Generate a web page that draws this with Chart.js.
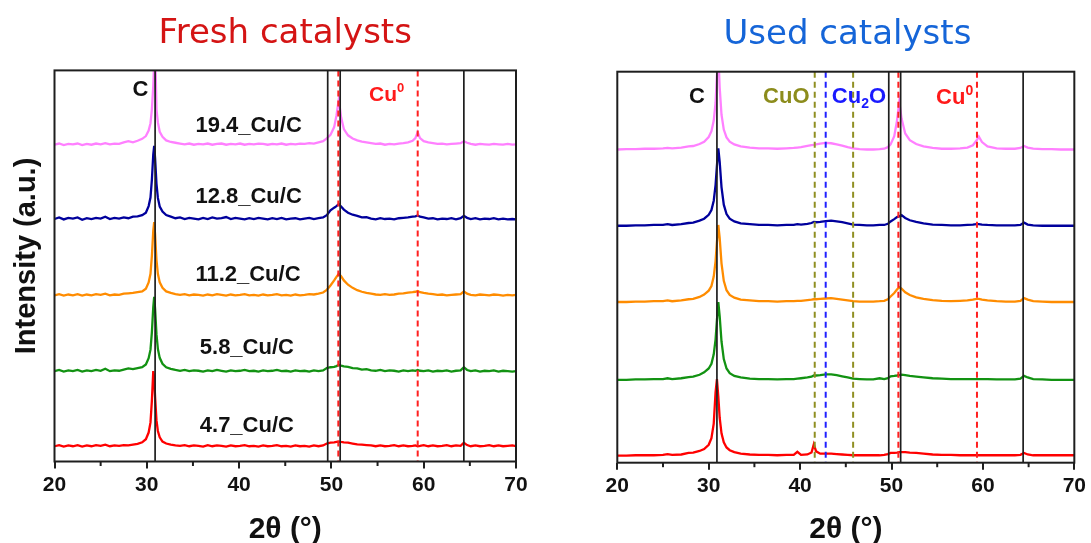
<!DOCTYPE html>
<html><head><meta charset="utf-8">
<script src="https://cdn.jsdelivr.net/npm/chart.js@4.4.1/dist/chart.umd.min.js"></script>
<style>
html,body{margin:0;padding:0;background:#fff;width:1091px;height:543px;overflow:hidden;position:relative;}
#c1{position:absolute;left:0;top:0;}
#c2{position:absolute;left:578px;top:0;}
</style></head><body>
<canvas id="c1" width="606" height="543"></canvas>
<canvas id="c2" width="512" height="543"></canvas>
<script>
// ---------- DATA ----------
const freshNames = ['19.4_Cu/C','12.8_Cu/C','11.2_Cu/C','5.8_Cu/C','4.7_Cu/C'];
const xFresh = [
20,20.5,21,21.5,22,22.5,23,23.5,24,24.5,
25,25.5,26,26.5,27,27.5,28,28.5,29,29.5,
29.9,30.2,30.4,30.55,30.7,30.8,30.9,31.05,31.2,31.4,
31.7,32.1,32.6,33.1,33.6,34.1,34.6,35.1,35.6,36.1,
36.6,37.1,37.6,38.1,38.6,39.1,39.6,40.1,40.6,41.1,
41.6,42.1,42.6,43.1,43.6,44.1,44.6,45.1,45.6,46.1,
46.6,47.1,47.6,48.1,48.6,49.1,49.5,49.9,50.3,50.55,
50.8,51.05,51.35,51.8,52.3,52.8,53.3,53.8,54.3,54.8,
55.3,55.8,56.3,56.8,57.3,57.8,58.3,58.8,59.1,59.35,
59.6,60,60.5,61,61.5,62,62.5,63,63.5,64,
64.35,64.7,65.1,65.6,66.1,66.6,67.1,67.6,68.1,68.6,
69.1,69.6,70];
const fresh19_4 = [
81.0,81.3,80.9,81.2,81.1,81.3,80.9,81.2,81.0,81.3,
81.1,81.4,81.1,81.3,81.2,81.6,81.9,81.6,82.0,82.5,
83.2,84.6,86.5,90.0,96.0,102.0,106.0,90.0,86.7,84.3,
83.0,82.1,81.7,81.5,81.3,81.1,81.3,81.0,81.2,81.1,
81.3,81.0,81.2,81.3,81.0,81.2,81.1,81.3,81.0,81.2,
81.1,81.3,81.2,81.0,81.2,81.1,81.3,81.0,81.2,81.1,
81.3,81.2,81.4,81.3,81.6,81.9,82.6,83.5,85.5,88.5,
92.6,88.0,85.0,83.4,82.6,82.1,81.8,81.6,81.4,81.2,
81.3,81.0,81.2,81.1,81.3,81.4,81.6,82.0,82.7,84.2,
82.7,81.9,81.6,81.4,81.2,81.3,81.1,81.2,81.3,81.4,
81.9,81.5,81.2,81.0,81.2,81.1,81.0,81.2,81.1,81.0,
81.2,81.0,81.1];
const fresh12_8 = [
62.0,62.4,61.9,62.3,62.1,62.4,61.8,62.2,62.0,62.3,
62.1,62.6,62.0,62.3,62.1,62.4,62.2,62.6,62.7,63.0,
63.6,65.3,67.5,72.0,78.5,80.7,77.5,71.0,67.4,65.2,
63.9,63.0,62.6,62.2,62.4,62.0,62.3,62.1,61.9,62.3,
62.0,62.4,62.1,62.2,62.5,62.0,62.3,62.1,61.9,62.2,
62.0,62.3,62.1,61.9,62.2,62.0,62.3,61.9,62.1,62.2,
61.9,62.1,62.3,62.0,62.2,62.4,63.0,64.2,64.9,65.3,
65.8,65.2,64.4,63.6,63.1,62.8,62.4,62.5,62.1,61.9,
62.2,62.0,62.1,61.9,62.2,62.3,62.4,62.6,62.7,62.9,
62.6,62.4,62.1,62.2,61.9,62.1,62.0,62.2,61.9,62.2,
62.8,62.3,62.0,62.2,61.9,62.1,62.0,62.2,61.9,62.1,
61.9,62.0,61.9];
const fresh11_2 = [
42.5,42.8,42.4,42.7,42.5,42.8,42.4,42.7,42.5,42.8,
42.6,42.9,42.5,42.7,42.6,42.9,43.0,43.1,43.3,43.5,
44.2,45.8,48.0,52.5,59.0,61.2,58.0,51.5,48.0,45.8,
44.4,43.5,43.1,42.8,42.6,42.8,42.5,42.7,42.6,42.4,
42.7,42.5,42.8,42.6,42.4,42.7,42.5,42.6,42.8,42.5,
42.6,42.4,42.7,42.5,42.6,42.8,42.5,42.6,42.4,42.7,
42.5,42.6,42.8,42.7,42.9,43.2,43.9,45.0,46.3,47.2,
48.0,47.4,46.3,45.2,44.4,43.8,43.4,43.1,42.9,42.7,
42.6,42.8,42.6,42.7,42.9,43.0,43.2,43.3,43.4,43.6,
43.3,43.1,42.9,42.8,42.6,42.7,42.5,42.6,42.7,42.8,
43.5,42.9,42.6,42.5,42.7,42.6,42.5,42.7,42.6,42.4,
42.6,42.5,42.6];
const fresh5_8 = [
23.1,23.4,23.0,23.3,23.1,23.4,23.0,23.3,23.1,23.4,
23.2,23.7,23.1,23.3,23.2,23.5,23.8,23.6,23.9,24.1,
24.8,26.4,28.6,33.0,39.5,42.1,39.0,32.5,28.8,26.5,
25.0,24.1,23.7,23.4,23.2,23.4,23.1,23.3,23.2,23.0,
23.3,23.1,23.4,23.2,23.0,23.3,23.1,23.2,23.4,23.1,
23.2,23.0,23.3,23.1,23.2,23.4,23.1,23.2,23.0,23.3,
23.1,23.2,23.0,23.3,23.1,23.3,23.9,24.1,24.2,24.4,
24.7,24.5,24.3,24.2,23.9,23.8,23.5,23.6,23.3,23.2,
23.4,23.1,23.3,23.2,23.0,23.3,23.1,23.3,23.2,23.4,
23.2,23.1,23.3,23.0,23.2,23.1,23.3,23.0,23.2,23.3,
24.1,23.4,23.1,23.3,23.0,23.2,23.1,23.3,23.0,23.2,
23.1,23.0,23.1];
const fresh4_7 = [
3.9,4.2,3.8,4.1,3.9,4.2,3.8,4.1,3.9,4.2,
4.0,4.3,3.9,4.1,4.0,4.2,4.1,4.3,4.5,4.9,
5.7,7.4,10.0,15.5,23.1,21.5,16.5,10.5,7.8,6.2,
5.1,4.6,4.3,4.1,4.0,4.2,3.9,4.1,4.0,3.8,
4.2,3.9,4.1,4.0,3.8,4.1,3.9,4.0,4.2,3.9,
4.0,3.8,4.1,3.9,4.0,4.2,3.9,4.0,3.8,4.1,
3.9,4.0,3.8,4.1,3.9,4.1,4.6,4.8,4.9,5.0,
5.1,5.0,4.9,4.8,4.6,4.4,4.3,4.2,4.1,3.9,
4.1,3.9,4.0,4.2,3.9,4.1,3.9,4.0,4.1,3.9,
4.0,4.2,3.9,4.1,3.9,4.0,4.2,3.9,4.1,4.0,
4.8,4.2,3.9,4.1,3.9,4.0,4.2,3.9,4.1,3.9,
4.0,4.1,3.9];

const xUsed = [
20,21,22,23,24,25,25.5,26,27,27.8,
28.3,29,29.5,30,30.3,30.55,30.75,30.9,31.05,31.2,
31.4,31.65,31.95,32.3,32.8,33.5,34.5,35.5,36.5,37.5,
38.5,39.3,39.7,40.1,40.8,41.25,41.5,41.75,42.2,42.8,
43.4,44,44.6,45.2,45.8,46.5,47.3,48,48.7,49.2,
49.6,49.9,50.3,50.6,50.85,51.1,51.5,52,52.7,53.5,
54.5,55.5,56.5,57.5,58.3,58.9,59.3,59.55,59.9,60.5,
61.5,62.5,63.5,64.1,64.5,64.9,65.5,66.5,67.5,68.5,
69.5,70];
const used19_4 = [
80.1,80.2,80.2,80.3,80.3,80.4,80.5,80.4,80.6,80.9,
81.0,81.5,82.1,83.3,84.8,87.5,92.0,99.0,105.0,96.0,
89.0,85.2,83.2,82.1,81.4,80.9,80.6,80.4,80.4,80.3,
80.4,80.5,80.6,80.7,81.0,81.2,81.3,81.4,81.6,81.8,
81.7,81.4,81.1,80.7,80.4,80.2,80.1,80.1,80.2,80.3,
80.7,81.4,83.5,87.5,92.3,88.0,84.2,82.5,81.5,80.9,
80.5,80.3,80.3,80.4,80.6,81.2,82.4,83.4,82.0,80.9,
80.4,80.3,80.3,80.5,81.0,80.6,80.3,80.2,80.2,80.1,
80.1,80.1];
const used12_8 = [
60.6,60.6,60.7,60.7,60.8,60.8,61.0,60.8,61.0,61.3,
61.4,61.9,62.4,63.4,64.6,67.0,71.0,76.0,80.4,77.0,
70.5,66.0,63.6,62.4,61.7,61.2,61.0,60.8,60.8,60.7,
60.8,60.8,61.0,60.9,61.1,61.3,61.6,61.5,61.6,61.8,
61.9,61.7,61.5,61.2,60.9,60.8,60.7,60.7,60.8,60.8,
61.1,61.7,62.3,62.8,63.0,63.3,62.6,62.0,61.6,61.2,
60.9,60.8,60.7,60.7,60.8,60.9,61.0,61.0,60.9,60.8,
60.7,60.7,60.7,60.8,61.4,60.9,60.7,60.6,60.6,60.6,
60.6,60.6];
const used11_2 = [
41.1,41.1,41.2,41.2,41.3,41.3,41.5,41.3,41.5,41.8,
41.9,42.4,43.0,44.0,45.2,47.6,51.5,56.5,60.8,57.5,
51.0,46.5,44.1,42.9,42.2,41.7,41.5,41.3,41.3,41.2,
41.3,41.3,41.4,41.4,41.6,41.7,41.8,41.8,41.9,42.0,
42.1,41.9,41.7,41.5,41.3,41.2,41.2,41.2,41.3,41.4,
41.8,42.5,43.4,44.3,44.9,44.5,43.6,42.9,42.3,41.9,
41.6,41.4,41.3,41.4,41.5,41.7,41.9,41.9,41.7,41.5,
41.3,41.2,41.2,41.4,42.1,41.7,41.3,41.2,41.1,41.1,
41.1,41.1];
const used5_8 = [
21.2,21.2,21.3,21.3,21.4,21.4,21.6,21.4,21.6,21.9,
22.0,22.5,23.1,24.1,25.3,27.7,31.5,36.5,41.1,37.5,
31.0,26.5,24.1,22.9,22.2,21.8,21.5,21.4,21.4,21.3,
21.4,21.4,21.5,21.6,21.8,22.0,22.3,22.3,22.4,22.6,
22.6,22.4,22.1,21.8,21.5,21.4,21.3,21.3,21.6,21.4,
21.6,22.1,22.2,22.3,22.4,22.5,22.4,22.2,22.0,21.8,
21.6,21.5,21.4,21.4,21.4,21.4,21.4,21.4,21.4,21.4,
21.3,21.3,21.3,21.5,22.2,21.8,21.4,21.3,21.2,21.2,
21.2,21.2];
const used4_7 = [
1.8,1.8,1.9,1.9,1.9,2.0,2.2,2.0,2.1,2.5,
2.6,3.0,3.5,4.6,6.3,10.0,18.0,21.4,17.0,11.5,
7.5,5.2,3.9,3.2,2.7,2.3,2.1,2.0,2.0,1.9,
2.0,2.0,2.8,2.0,2.1,2.6,4.7,2.9,2.3,2.3,
2.3,2.2,2.1,2.0,1.9,1.9,1.9,1.9,1.9,2.0,
2.2,2.5,2.5,2.6,2.7,2.7,2.7,2.6,2.5,2.3,
2.1,2.0,2.0,1.9,1.9,1.9,1.9,1.9,1.9,1.9,
1.9,1.9,1.9,2.0,2.5,2.1,1.9,1.9,1.9,1.9,
1.9,1.9];

// reference-line positions (2θ)
const freshCLines = [30.9, 49.6, 50.95, 64.35];
const freshCu0Lines = [50.75, 59.35];
const usedCLines = [30.9, 49.7, 51.0, 64.4];
const usedCu0Lines = [50.75, 59.35];
const usedCuOLines = [41.6, 45.8];
const usedCu2OLines = [42.8];
const xTickMajor = [20, 30, 40, 50, 60, 70];
const xTickMinor = [25, 35, 45, 55, 65];

// ---------- STYLE ----------
const seriesColors = ['#ff80ff', '#00009c', '#ff8c00', '#129212', '#ff0000'];
const SANS = '"Liberation Sans", Arial, sans-serif';

function toXY(xs, ys) { return xs.map((x, i) => ({x: x, y: ys[i]})); }

function drawRich(ctx, parts, px, py, align, color, size) {
  const segs = parts.map(p => {
    const s = p[1] ? Math.round(size * 0.62) : size;
    ctx.font = 'bold ' + s + 'px ' + SANS;
    return {t: p[0], mode: p[1], s: s, w: ctx.measureText(p[0]).width};
  });
  const total = segs.reduce((a, b) => a + b.w, 0);
  let x = align === 'center' ? px - total / 2 : px;
  ctx.fillStyle = color; ctx.textAlign = 'left'; ctx.textBaseline = 'alphabetic';
  segs.forEach(g => {
    ctx.font = 'bold ' + g.s + 'px ' + SANS;
    let dy = 0;
    if (g.mode === 'sup') dy = -size * 0.42;
    if (g.mode === 'sub') dy = size * 0.24;
    ctx.fillText(g.t, x, py + dy);
    x += g.w;
  });
}

function decorPlugin(cfg) {
  return {
    id: 'decor',
    afterDatasetsDraw(chart) {
      const ctx = chart.ctx, a = chart.chartArea, xs = chart.scales.x, ys = chart.scales.y;
      ctx.save();
      cfg.refs.forEach(r => {
        r.values.forEach(v => {
          const px = xs.getPixelForValue(v);
          ctx.beginPath();
          ctx.strokeStyle = r.color; ctx.lineWidth = r.width; ctx.setLineDash(r.dash || []);
          ctx.moveTo(px, a.top); ctx.lineTo(px, a.bottom); ctx.stroke();
        });
      });
      ctx.setLineDash([]);
      ctx.strokeStyle = '#1e1e1e'; ctx.lineWidth = 2;
      ctx.strokeRect(a.left, a.top, a.right - a.left, a.bottom - a.top);
      xTickMinor.forEach(v => {
        const px = xs.getPixelForValue(v);
        ctx.beginPath(); ctx.moveTo(px, a.bottom); ctx.lineTo(px, a.bottom + 4.5); ctx.stroke();
      });
      cfg.labels.forEach(l => {
        drawRich(ctx, l.parts, xs.getPixelForValue(l.x), ys.getPixelForValue(l.y), l.align, l.color, l.size);
      });
      if (cfg.yTitle) {
        ctx.translate(27, (a.top + a.bottom) / 2 - 10);
        ctx.rotate(-Math.PI / 2);
        ctx.font = 'bold 29px ' + SANS;
        ctx.fillStyle = '#111'; ctx.textAlign = 'center'; ctx.textBaseline = 'middle';
        ctx.fillText(cfg.yTitle, 0, 0);
      }
      ctx.restore();
    }
  };
}

function makeChart(id, opts) {
  return new Chart(document.getElementById(id), {
    type: 'line',
    data: {
      datasets: opts.series.map((ys, i) => ({
        label: freshNames[i],
        data: toXY(opts.xs, ys),
        borderColor: seriesColors[i],
        borderWidth: 2.3,
        pointRadius: 0,
        tension: 0,
        fill: false
      }))
    },
    options: {
      responsive: false, animation: false, devicePixelRatio: 1,
      layout: {padding: {left: opts.padLeft, right: opts.padRight, top: 0, bottom: 0}},
      plugins: {
        legend: {display: false}, tooltip: {enabled: false},
        title: {display: true, text: opts.title, color: opts.titleColor,
          font: {family: '"DejaVu Sans", Verdana, sans-serif', size: 34, weight: 'normal', lineHeight: 1},
          padding: {top: opts.titleTop, bottom: opts.titleBottom}}
      },
      scales: {
        x: {
          type: 'linear', min: 20, max: 70,
          afterFit: s => { s.height = opts.xHeight; },
          afterBuildTicks: s => { s.ticks = xTickMajor.map(v => ({value: v})); },
          ticks: {color: '#111', font: {family: SANS, size: 21, weight: 'bold', lineHeight: 1.2},
            padding: 4, maxRotation: 0, autoSkip: false},
          grid: {drawOnChartArea: false, drawTicks: true, tickLength: 7, color: '#1e1e1e', lineWidth: 2},
          border: {display: false},
          title: {display: true, text: '2θ (°)', color: '#111',
            font: {family: SANS, size: 30, weight: 'bold', lineHeight: 0.9}, padding: {top: 0, bottom: 0}}
        },
        y: {display: false, min: 0, max: 100}
      }
    },
    plugins: [decorPlugin(opts.decor)]
  });
}

makeChart('c1', {
  xs: xFresh,
  series: [fresh19_4, fresh12_8, fresh11_2, fresh5_8, fresh4_7],
  padLeft: 54.5, padRight: 90, xHeight: 81.5,
  title: 'Fresh catalysts', titleColor: '#d41414', titleTop: 16.9, titleBottom: 19.5,
  decor: {
    yTitle: 'Intensity (a.u.)',
    refs: [
      {values: freshCLines, color: '#1e1e1e', width: 1.7},
      {values: freshCu0Lines, color: '#ff2020', width: 2, dash: [6, 4]}
    ],
    labels: [
      {parts: [['C']], x: 29.32, y: 93.4, align: 'center', color: '#111', size: 22},
      {parts: [['Cu'], ['0', 'sup']], x: 54.07, y: 92.1, align: 'left', color: '#ff1a1a', size: 21},
      {parts: [[freshNames[0]]], x: 41.03, y: 84.3, align: 'center', color: '#111', size: 22},
      {parts: [[freshNames[1]]], x: 41.03, y: 66.1, align: 'center', color: '#111', size: 22},
      {parts: [[freshNames[2]]], x: 40.96, y: 46.1, align: 'center', color: '#111', size: 22},
      {parts: [[freshNames[3]]], x: 40.84, y: 27.4, align: 'center', color: '#111', size: 22},
      {parts: [[freshNames[4]]], x: 40.84, y: 7.5, align: 'center', color: '#111', size: 22}
    ]
  }
});

makeChart('c2', {
  xs: xUsed,
  series: [used19_4, used12_8, used11_2, used5_8, used4_7],
  padLeft: 39.3, padRight: 12.5, xHeight: 80.3,
  title: 'Used catalysts', titleColor: '#1565d8', titleTop: 18.6, titleBottom: 19.1,
  decor: {
    refs: [
      {values: usedCLines, color: '#1e1e1e', width: 1.7},
      {values: usedCu0Lines, color: '#ff2020', width: 2, dash: [6, 4]},
      {values: usedCuOLines, color: '#8f8f22', width: 2, dash: [6, 4]},
      {values: usedCu2OLines, color: '#2020ff', width: 2, dash: [6, 4]}
    ],
    labels: [
      {parts: [['C']], x: 28.71, y: 91.9, align: 'center', color: '#111', size: 22},
      {parts: [['CuO']], x: 38.49, y: 91.9, align: 'center', color: '#8c8c1c', size: 22},
      {parts: [['Cu'], ['2', 'sub'], ['O']], x: 43.47, y: 92.1, align: 'left', color: '#1a1aff', size: 22},
      {parts: [['Cu'], ['0', 'sup']], x: 54.88, y: 91.7, align: 'left', color: '#ff1a1a', size: 22}
    ]
  }
});
</script>
</body></html>
